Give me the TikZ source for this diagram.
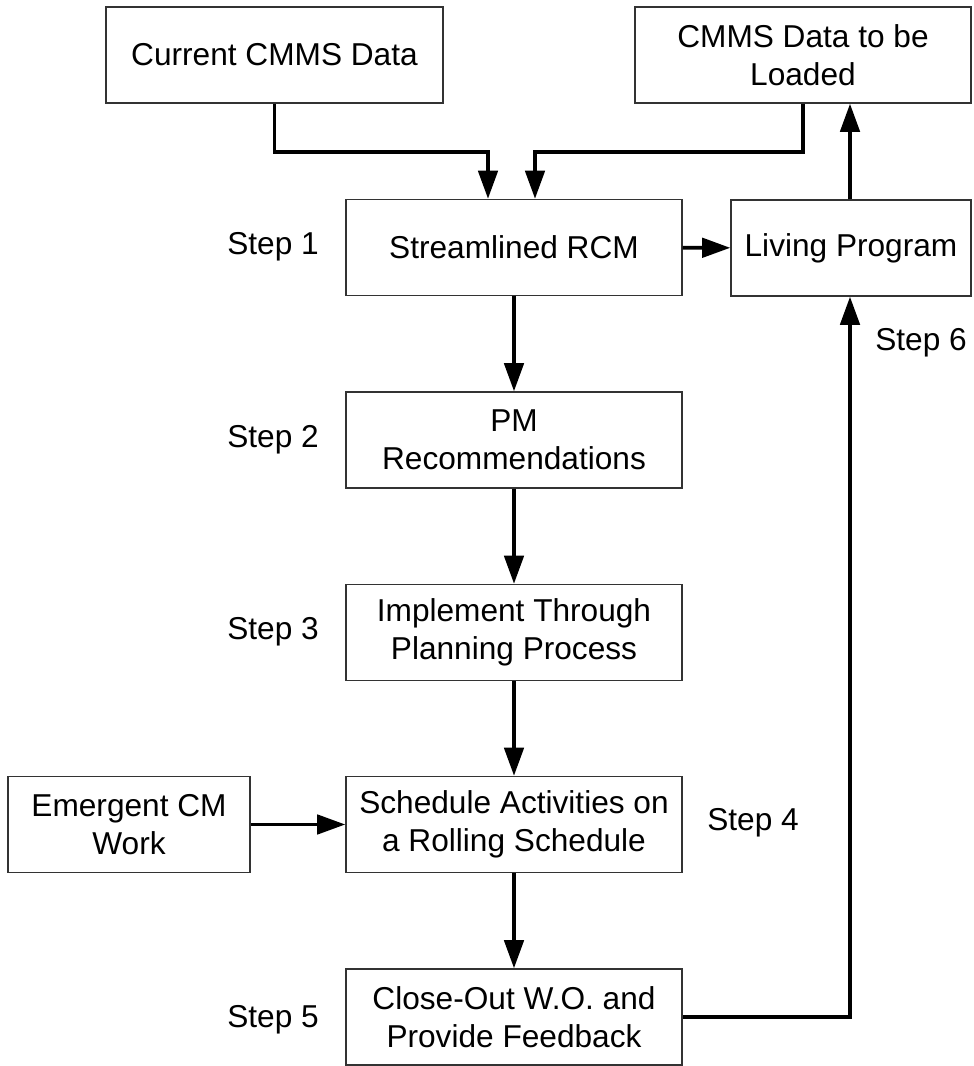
\documentclass[tikz,border=0pt]{standalone}
\usepackage{fontspec}
\setmainfont{Liberation Sans}
\usepackage{xcolor}
\definecolor{ink}{HTML}{000000}
\definecolor{edge}{HTML}{333333}
\usetikzlibrary{arrows.meta}

\begin{document}
\begin{tikzpicture}[x=1cm,y=1cm,
  box/.style={draw=edge, line width=0.8pt, fill=white, minimum height=1.92cm,
              inner sep=2pt, align=center, font=\fontsize{18}{21.8}\selectfont},
  flow/.style={ink, line width=2.1pt, -{Triangle[length=16pt,width=11pt]}},
  steplbl/.style={font=\fontsize{18}{21.8}\selectfont, text=ink}]
  \useasboundingbox (0,0) rectangle (19.48,21.32);
  % data boxes on top
  \node[box, minimum width=6.74cm] (cur)  at (5.49,20.22)  {Current CMMS Data};
  \node[box, minimum width=6.72cm] (load) at (16.06,20.22) {CMMS Data to be\\Loaded};
  % main column
  \node[box, minimum width=6.72cm] (rcm)   at (10.28,16.37) {Streamlined RCM};
  \node[box, minimum width=6.72cm] (pm)    at (10.28,12.52) {PM\\Recommendations};
  \node[box, minimum width=6.72cm] (impl)  at (10.28,8.67)  {Implement Through\\Planning Process};
  \node[box, minimum width=6.72cm] (sched) at (10.28,4.83)  {Schedule Activities on\\a Rolling Schedule};
  \node[box, minimum width=6.72cm] (close) at (10.28,0.98)  {Close-Out W.O. and\\Provide Feedback};
  % side boxes
  \node[box, minimum width=4.8cm]  (live)  at (17.02,16.36) {Living Program};
  \node[box, minimum width=4.84cm] (emerg) at (2.58,4.83)   {Emergent CM\\Work};
  % step labels
  \foreach \pos/\n in {(5.46,16.38)/1,(5.46,12.52)/2,(5.46,8.68)/3,(15.06,4.86)/4,(5.46,0.92)/5,(18.42,14.46)/6}
    \node[steplbl] (step\n) at \pos {Step \n};
  % inputs to RCM
  \coordinate (curdrop)  at (9.76,18.28);
  \coordinate (loaddrop) at (10.7,18.28);
  \draw[flow] (cur.south) |- (curdrop) -- (curdrop |- rcm.north);
  \draw[flow] (load.south) |- (loaddrop) -- (loaddrop |- rcm.north);
  % down the column
  \draw[flow] (rcm) -- (live);
  \draw[flow] (rcm) -- (pm);
  \draw[flow] (pm) -- (impl);
  \draw[flow] (impl) -- (sched);
  \draw[flow] (sched) -- (close);
  \draw[flow] (emerg) -- (sched);
  % feedback loop
  \coordinate (loopx) at (17.0,0.98);
  \draw[flow] (close.east |- loopx) -- (loopx) -- (loopx |- live.south);
  \draw[flow] (loopx |- live.north) -- (loopx |- load.south);
\end{tikzpicture}
\end{document}
